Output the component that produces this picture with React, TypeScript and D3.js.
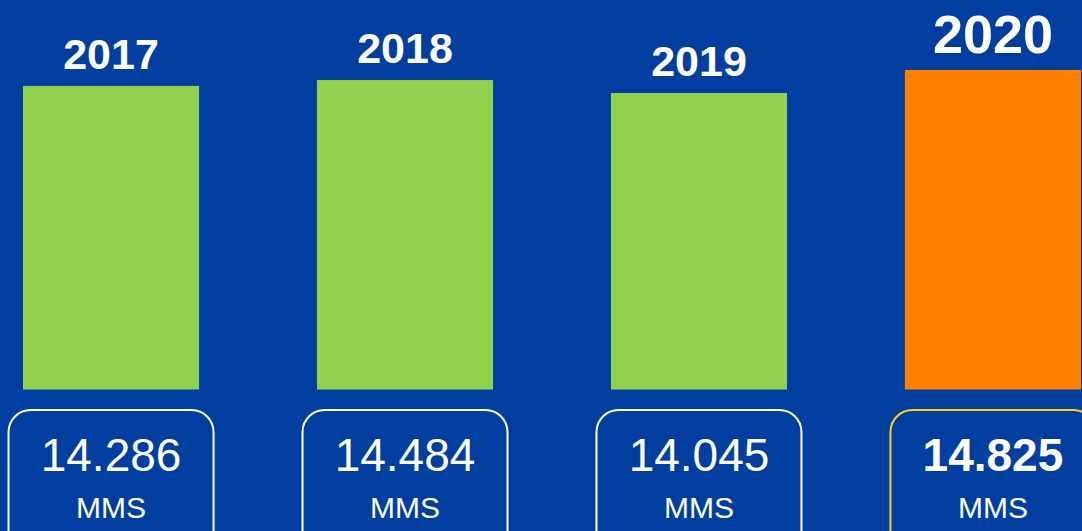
import * as d3 from 'd3'

const years = ['2017', '2018', '2019', '2020']
const values = [14286, 14484, 14045, 14825]
const valueLabels = ['14.286', '14.484', '14.045', '14.825']
const unitLabel = 'MMS'
const highlight = '2020'

const W = 1082
const H = 531
const BG = '#003f9f'
const GREEN = '#92d050'
const ORANGE = '#ff7f00'
const GOLD = '#ffd21a'
const FONT = 'Arial, "Liberation Sans", Helvetica, sans-serif'

export default function App() {
  const x = d3.scaleBand<string>()
    .domain(years)
    .range([23, 1081])
    .paddingInner(0.401)
    .paddingOuter(0)

  const baseline = 389.5
  const y = d3.scaleLinear()
    .domain([4000, 14825])
    .range([baseline, 70])

  const boxW = 205
  const boxTop = 410

  return (
    <div style={{ position: 'fixed', left: 0, top: 0, width: W, height: H, overflow: 'hidden' }}>
      <svg width={W} height={H} style={{ display: 'block' }} fontFamily={FONT}>
        <rect x={0} y={0} width={W} height={H} fill={BG} />
        {years.map((yr, i) => {
          const isHi = yr === highlight
          const bx = x(yr) as number
          const cx = bx + x.bandwidth() / 2
          const top = y(values[i])
          return (
            <g key={yr}>
              <rect x={bx} y={top} width={x.bandwidth()} height={baseline - top} fill={isHi ? ORANGE : GREEN} />
              <text
                x={cx}
                y={top - 17}
                textAnchor="middle"
                fill="#fff"
                fontWeight="bold"
                fontSize={isHi ? 54 : 43}
              >{yr}</text>
              <rect
                x={cx - boxW / 2}
                y={boxTop}
                width={boxW}
                height={160}
                rx={22}
                ry={22}
                fill="none"
                stroke={isHi ? GOLD : '#fff'}
                strokeWidth={2}
              />
              <text
                x={cx}
                y={471}
                textAnchor="middle"
                fill="#fff"
                fontWeight={isHi ? 'bold' : 'normal'}
                fontSize={46}
              >{valueLabels[i]}</text>
              <text x={cx} y={518} textAnchor="middle" fill="#fff" fontSize={30}>{unitLabel}</text>
            </g>
          )
        })}
      </svg>
    </div>
  )
}
